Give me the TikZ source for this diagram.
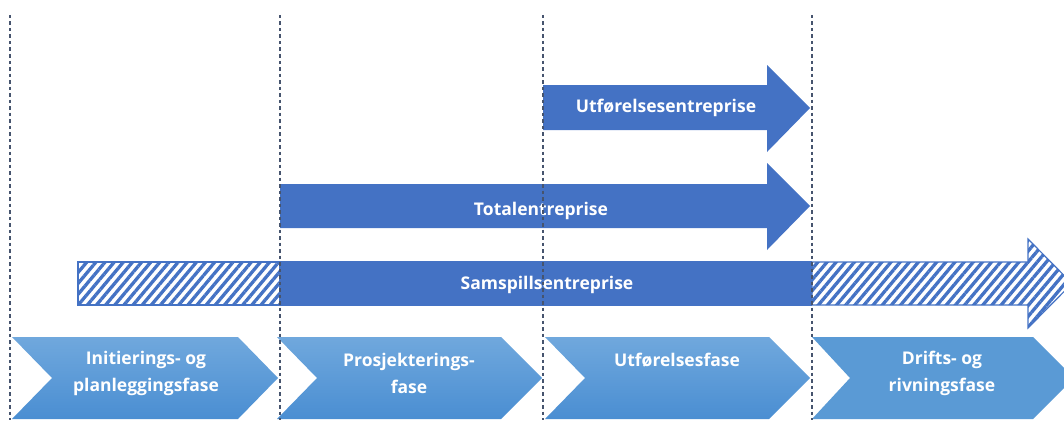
\documentclass[tikz,border=0pt]{standalone}
\usepackage{fontspec}
\setmainfont{Open Sans}
\usetikzlibrary{patterns.meta}
\definecolor{arrowblue}{HTML}{4472C4}
\definecolor{chevtop}{HTML}{70A8DD}
\definecolor{chevbot}{HTML}{4A8ED2}
\definecolor{chevflat}{HTML}{5A9AD5}
\definecolor{guide}{HTML}{46546E}
\tikzset{
  chevron/.style={top color=chevtop, bottom color=chevbot, draw=none},
  chevronflat/.style={fill=chevflat, draw=none},
  solidarrow/.style={fill=arrowblue, draw=none},
  hatched/.style={draw=arrowblue, line width=1.2pt, fill=white,
    postaction={pattern={Lines[angle=50, distance=7pt, line width=3.3pt]}, pattern color=arrowblue}},
  guideline/.style={draw=guide, line width=1.5pt, dash pattern=on 3.5pt off 3pt},
  lbl/.style={text=white, font=\fontsize{17.5}{27}\selectfont\bfseries, align=center, inner sep=0pt},
}
\begin{document}
\begin{tikzpicture}[x=1pt, y=-1pt]
\useasboundingbox (0,0) rectangle (1064,420);
\clip (0,0) rectangle (1064,420);

% phase chevrons
\path[chevron] (12,337) -- (238,337) -- (278,378) -- (238,419) -- (12,419) -- (52,378) -- cycle;
\path[chevron] (277,337) -- (501,337) -- (542,378) -- (501,419) -- (277,419) -- (317,378) -- cycle;
\path[chevron] (545,337) -- (769,337) -- (810,378) -- (769,419) -- (545,419) -- (585,378) -- cycle;
\path[chevronflat] (812,337) -- (1033,337) -- (1074,378) -- (1033,419) -- (812,419) -- (850,378) -- cycle;

\node[lbl] (p1) at (146,373) {Initierings- og\\planleggingsfase};
\node[lbl] (p2) at (409,373) {Prosjekterings-\\fase};
\node[lbl] (p3) at (677,360) {Utførelsesfase};
\node[lbl] (p4) at (942,373) {Drifts- og\\rivningsfase};

% Utførelsesentreprise arrow
\path[solidarrow] (543,85) -- (767,85) -- (767,65) -- (810,108) -- (767,152) -- (767,130) -- (543,130) -- cycle;
\node[lbl] (a1) at (666,108) {Utførelsesentreprise};

% Totalentreprise arrow
\path[solidarrow] (280,184) -- (767,184) -- (767,163) -- (810,206) -- (767,250) -- (767,228) -- (280,228) -- cycle;
\node[lbl] (a2) at (541,211) {Totalentreprise};

% Samspillsentreprise
\path[hatched] (78,262) rectangle (280,305);
\path[hatched] (812,262) -- (1028,262) -- (1028,239) -- (1072,283.5) -- (1028,328) -- (1028,305) -- (812,305) -- cycle;
\path[solidarrow] (280,261.4) rectangle (812,305.6);
\node[lbl] (a3) at (547,285) {Samspillsentreprise};

% phase boundaries
\draw[guideline] (10,15) -- (10,420);
\draw[guideline] (280,15) -- (280,420);
\draw[guideline] (543,15) -- (543,420);
\draw[guideline] (812,15) -- (812,420);
\end{tikzpicture}
\end{document}
